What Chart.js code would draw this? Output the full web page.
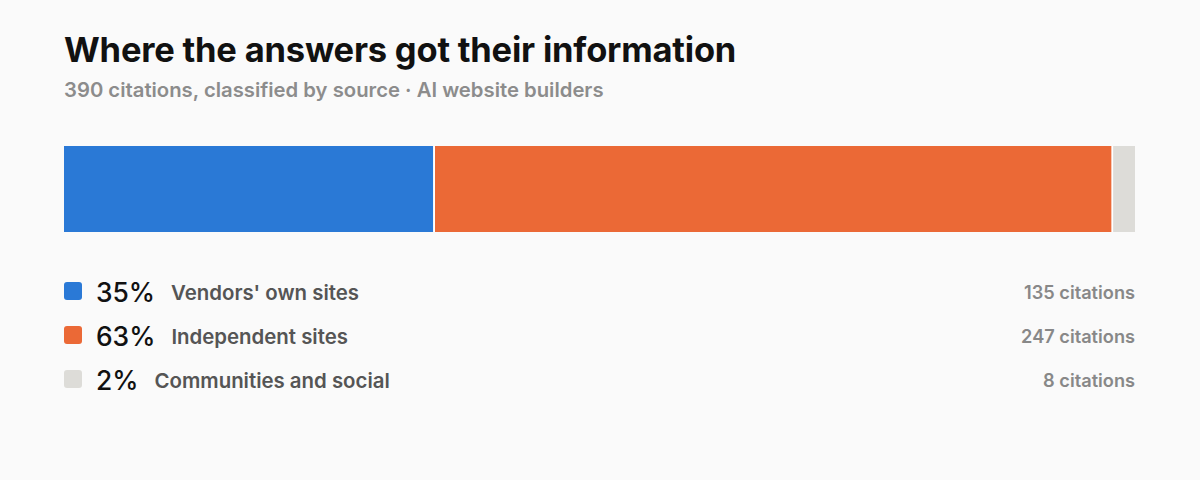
<!DOCTYPE html>
<html>
<head>
<meta charset="utf-8">
<script src="https://cdn.jsdelivr.net/npm/chart.js@4"></script>
<style>
  html, body { margin: 0; padding: 0; background: #fafafa; }
  body { width: 1200px; height: 480px; position: relative; font-family: Inter, "Noto Sans", sans-serif; overflow: hidden; }
  h1 { position: absolute; left: 64px; top: 29px; margin: 0; font-size: 34.5px; font-weight: 700; color: #111; letter-spacing: -0.2px; line-height: 1.21; }
  .sub { position: absolute; left: 64px; top: 78px; font-size: 20.3px; font-weight: 600; color: #8c8c8c; line-height: 1.21; }
  #wrap { position: absolute; left: 64px; top: 146px; width: 1071px; height: 86px; }
  .row { position: absolute; left: 64px; width: 1071px; height: 30px; display: flex; align-items: center; }
  .row span { position: relative; top: 1.5px; }
  .row .sw { top: 0; width: 18px; height: 18px; border-radius: 3px; margin-right: 14px; flex: none; }
  .pct { font-size: 26.4px; font-weight: 500; color: #111; margin-right: 16px; }
  .lab { font-size: 20.4px; font-weight: 600; color: #555; }
  .cnt { margin-left: auto; font-size: 18.2px; font-weight: 600; color: #888; }
</style>
</head>
<body>
<h1>Where the answers got their information</h1>
<div class="sub">390 citations, classified by source · AI website builders</div>
<div id="wrap"><canvas id="graph"></canvas></div>
<div id="legend"></div>
<script>
const sources = ["Vendors' own sites", 'Independent sites', 'Communities and social'];
const citations = [135, 247, 8];
const percents = ['35%', '63%', '2%'];
const colors = ['#2a79d6', '#eb6936', '#dddcd8'];

let myChart = document.getElementById('graph').getContext('2d');
const srcChart = new Chart(myChart, {
    type: 'bar',
    data: {
        labels: ['sources'],
        datasets: sources.map((s, i) => ({
            label: s,
            data: [citations[i]],
            backgroundColor: colors[i],
            borderColor: '#ffffff',
            borderWidth: i < sources.length - 1 ? {right: 2} : 0,
            borderSkipped: false,
            barPercentage: 1,
            categoryPercentage: 1
        }))
    },
    options: {
        indexAxis: 'y',
        responsive: true,
        maintainAspectRatio: false,
        animation: false,
        layout: { padding: 0 },
        plugins: { legend: { display: false }, tooltip: { enabled: false } },
        scales: {
            x: { stacked: true, display: false, min: 0, max: citations.reduce((a, b) => a + b, 0) },
            y: { stacked: true, display: false }
        }
    }
});

const legend = document.getElementById('legend');
sources.forEach((s, i) => {
    const row = document.createElement('div');
    row.className = 'row';
    row.style.top = (275.5 + i * 44) + 'px';
    row.innerHTML = '<span class="sw" style="background:' + colors[i] + '"></span>' +
        '<span class="pct">' + percents[i] + '</span>' +
        '<span class="lab">' + s + '</span>' +
        '<span class="cnt">' + citations[i] + ' citations</span>';
    legend.appendChild(row);
});
</script>
</body>
</html>
